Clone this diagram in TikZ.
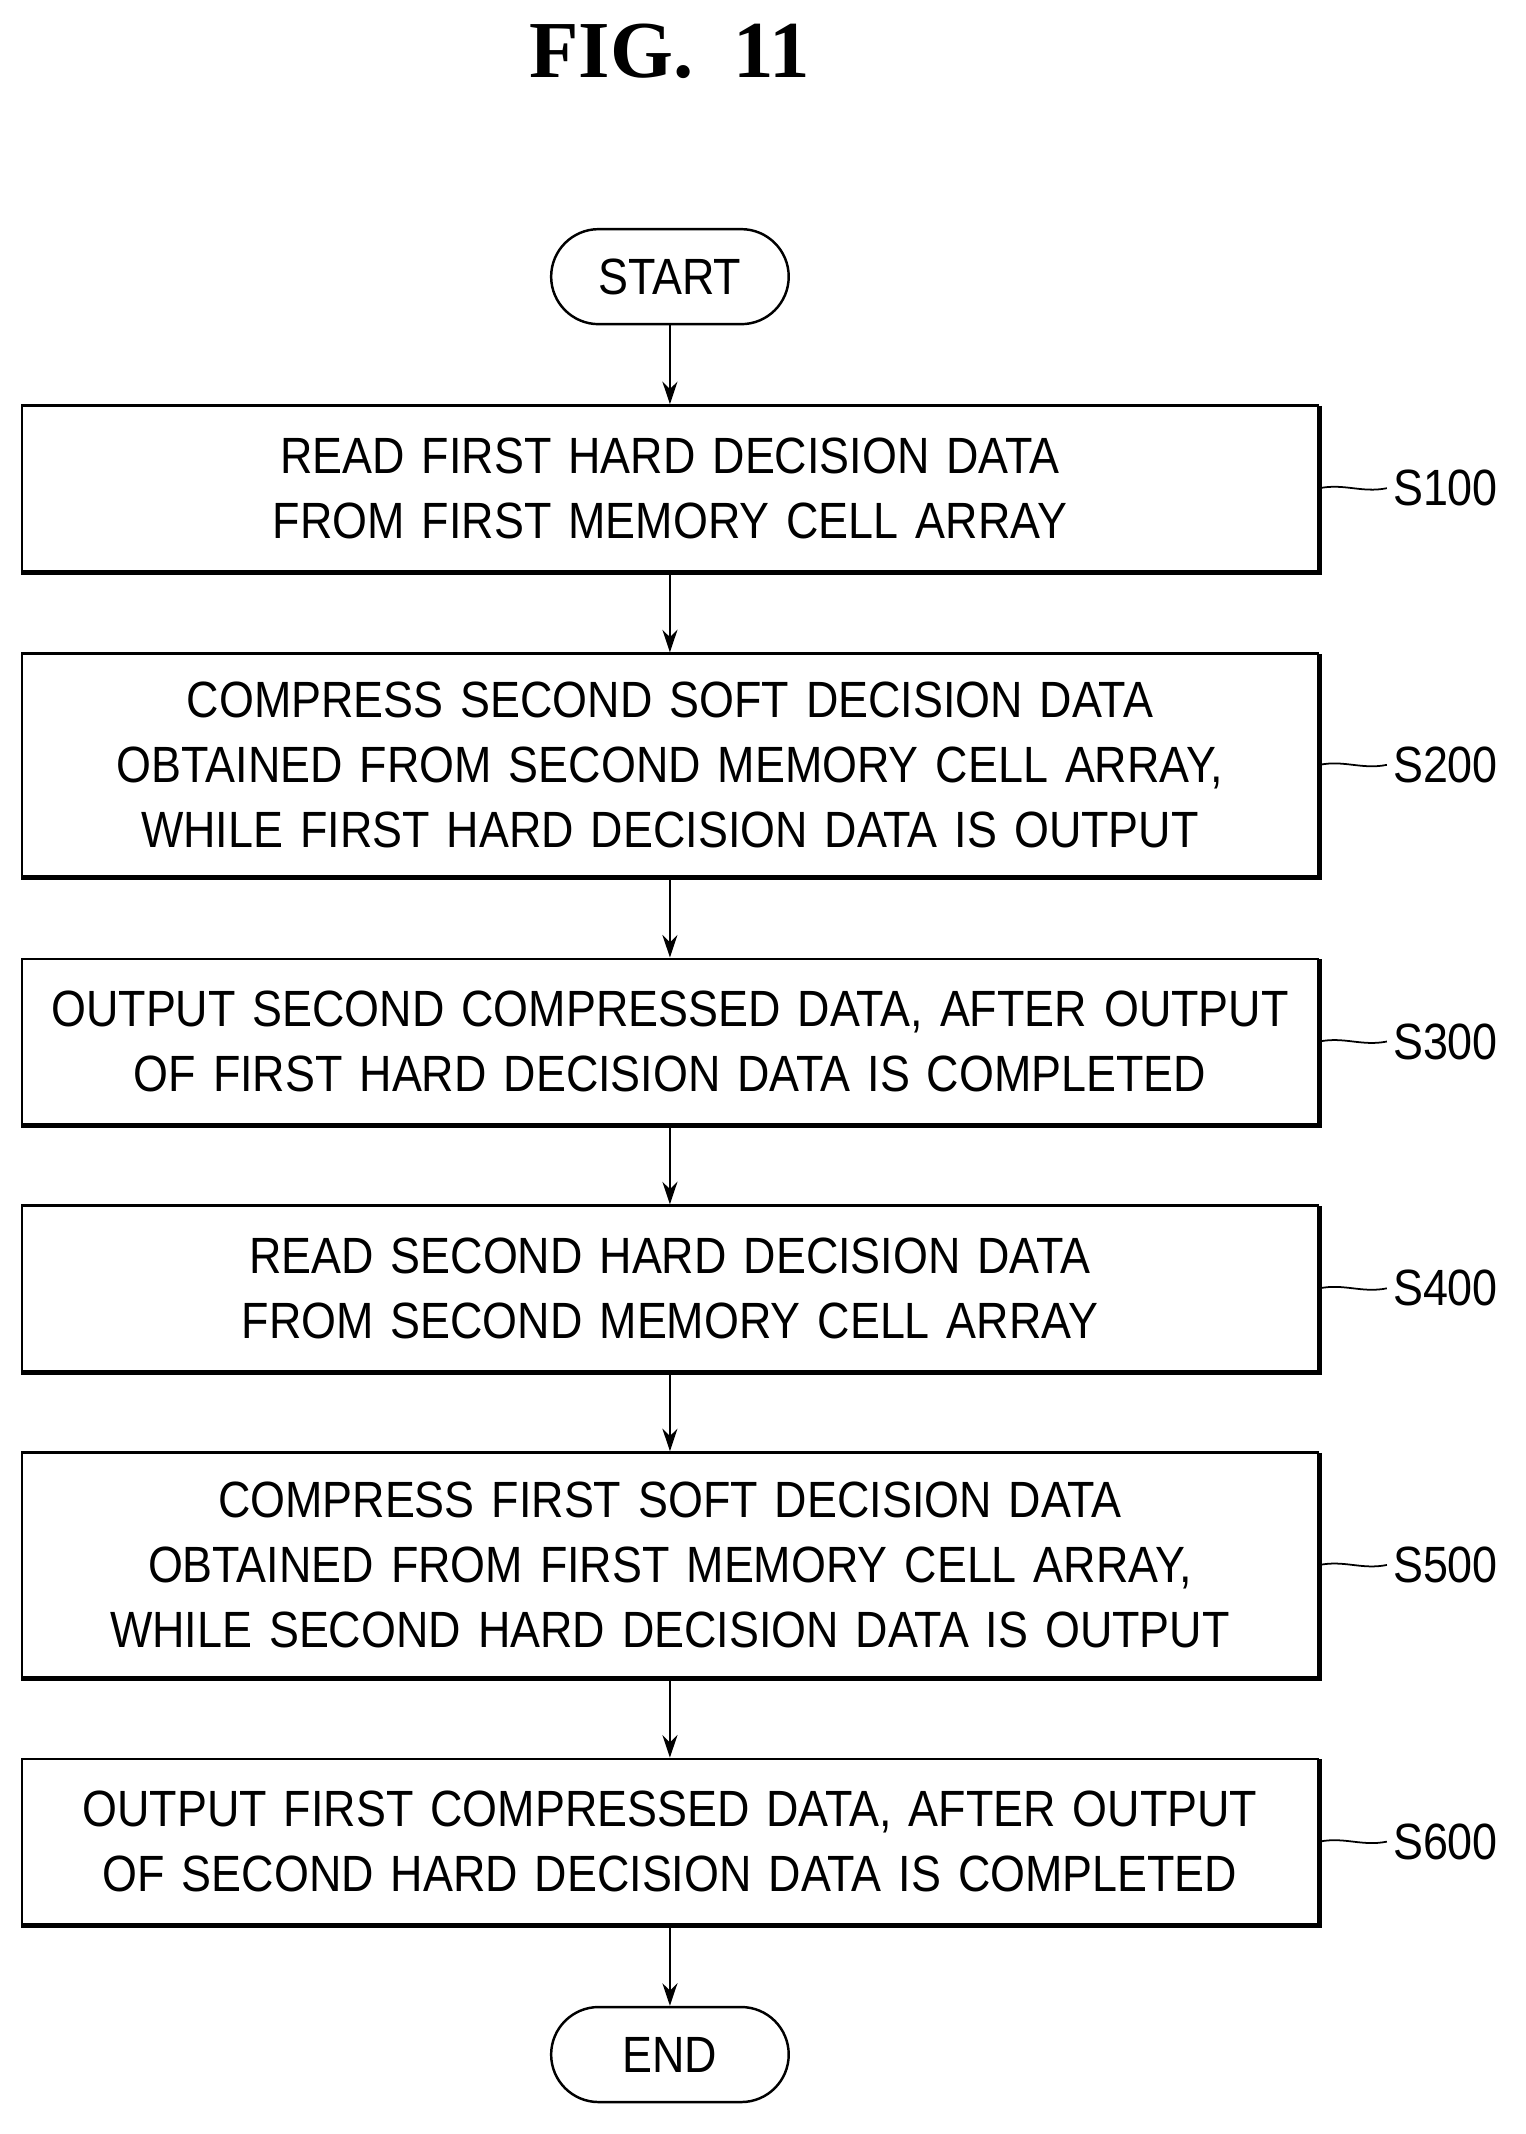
\documentclass[tikz,border=0pt]{standalone}
\usepackage{fontspec}
\setmainfont[FakeStretch=0.88]{Liberation Sans}
\newfontfamily\figfont{Liberation Serif}
\usetikzlibrary{arrows.meta}
\tikzset{
  stepbox/.style = {draw, line width=1.4pt, text width=25.6cm, minimum height=3.31cm,
                 align=center, font=\fontsize{29}{37}\selectfont, inner sep=0.16cm},
  term/.style = {draw, line width=1.4pt, rounded corners=0.95cm, minimum width=4.75cm,
                 minimum height=1.9cm, font=\fontsize{29}{37}\selectfont},
  flow/.style = {line width=1.4pt, -{Stealth[length=0.45cm, width=0.3cm]}},
  tag/.style  = {font=\fontsize{29}{37}\selectfont, anchor=west}
}
\begin{document}
\begin{tikzpicture}[x=0.02712cm, y=-0.02712cm]
  \useasboundingbox (0,0) rectangle (1124.6,1573.6);
  \node[font=\figfont\bfseries\fontsize{46}{50}\selectfont] (title) at (494,38) {FIG.\ \ 11};

  \node[term] (start) at (494,204) {START};
  \node[stepbox] (s100) at (494,360) {READ FIRST HARD DECISION DATA\\FROM FIRST MEMORY CELL ARRAY};
  \node[stepbox, minimum height=4.45cm] (s200) at (494,564) {COMPRESS SECOND SOFT DECISION DATA\\OBTAINED FROM SECOND MEMORY CELL ARRAY,\\WHILE FIRST HARD DECISION DATA IS OUTPUT};
  \node[stepbox] (s300) at (494,768) {OUTPUT SECOND COMPRESSED DATA, AFTER OUTPUT\\OF FIRST HARD DECISION DATA IS COMPLETED};
  \node[stepbox] (s400) at (494,950) {READ SECOND HARD DECISION DATA\\FROM SECOND MEMORY CELL ARRAY};
  \node[stepbox, minimum height=4.5cm] (s500) at (494,1154) {COMPRESS FIRST SOFT DECISION DATA\\OBTAINED FROM FIRST MEMORY CELL ARRAY,\\WHILE SECOND HARD DECISION DATA IS OUTPUT};
  \node[stepbox] (s600) at (494,1358) {OUTPUT FIRST COMPRESSED DATA, AFTER OUTPUT\\OF SECOND HARD DECISION DATA IS COMPLETED};
  \node[term] (end) at (494,1515) {END};

  % heavier right and bottom edges
  \foreach \n in {s100,s200,s300,s400,s500,s600}
    \draw[line width=3pt] ([yshift=-1pt]\n.north east) -- (\n.south east) -- (\n.south west);

  % flow
  \draw[flow] (start) -- (s100);
  \draw[flow] (s100) -- (s200);
  \draw[flow] (s200) -- (s300);
  \draw[flow] (s300) -- (s400);
  \draw[flow] (s400) -- (s500);
  \draw[flow] (s500) -- (s600);
  \draw[flow] (s600) -- (end);

  % step labels
  \foreach \n/\t in {s100/S100,s200/S200,s300/S300,s400/S400,s500/S500,s600/S600} {
    \node[tag] (l\n) at ([xshift=1.35cm]\n.east) {\t};
    \draw[line width=1pt] (\n.east) .. controls ++(0.5cm,0.1cm) and ++(-0.5cm,-0.1cm) .. (l\n.west);
  }
\end{tikzpicture}
\end{document}
